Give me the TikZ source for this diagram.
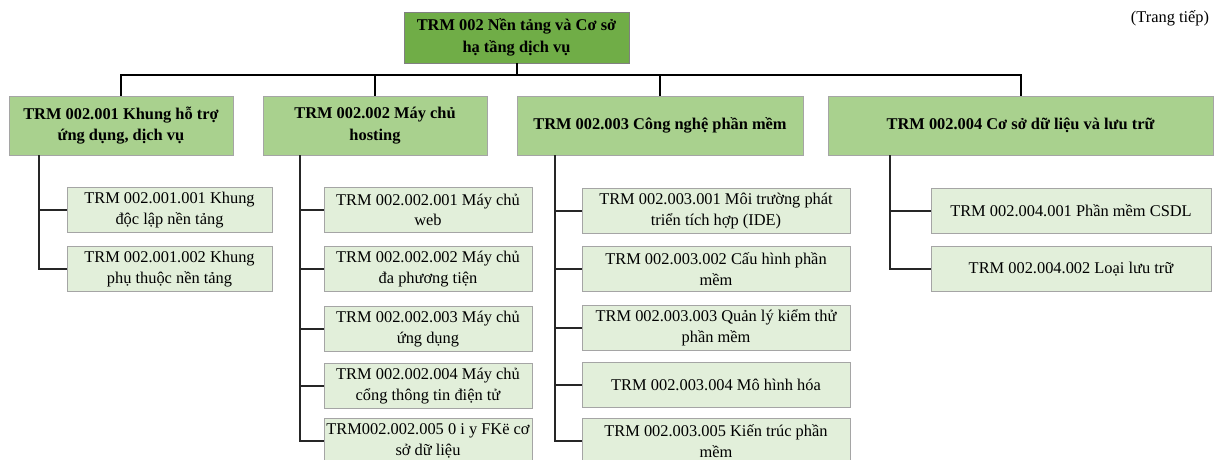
\documentclass[tikz,border=0pt]{standalone}
\usepackage{fontspec}
\setmainfont{Liberation Serif}
\usetikzlibrary{calc}
\definecolor{rootgreen}{HTML}{70AD47}
\definecolor{groupgreen}{HTML}{A9D18E}
\definecolor{itemgreen}{HTML}{E2EFDA}
\definecolor{edgegray}{HTML}{A5A5A5}
\tikzset{
  every node/.style={font=\fontsize{12.3}{15.5}\selectfont},
  rootbox/.style={
    draw=gray, fill=rootgreen, align=center, inner sep=0pt,
    font=\fontsize{12.3}{16}\selectfont\bfseries,
    minimum width=168.75pt, minimum height=38.25pt
  },
  groupbox/.style={
    draw=edgegray, fill=groupgreen, align=center, inner sep=0pt,
    font=\fontsize{12.3}{16}\selectfont\bfseries,
    minimum height=44.25pt
  },
  itembox/.style={
    draw=edgegray, fill=itemgreen, align=center, inner sep=0pt,
    minimum height=33.75pt
  },
  trunk/.style={line width=1.5pt, black},
  branch/.style={line width=0.9pt, black!85}
}
\begin{document}
\begin{tikzpicture}[x=0.75pt, y=-0.75pt]
    \useasboundingbox (0,0) rectangle (1218,460);
    \clip (0,0) rectangle (1218,460);

    \node [rootbox] (root) at (516.5, 37.5) {TRM 002 Nền tảng và Cơ sở\\hạ tầng dịch vụ};
    \node (next) at (1170, 18) {(Trang tiếp)};

    \node [groupbox, minimum width=168pt]    (G1) at ( 121.0, 125.5) {TRM 002.001 Khung hỗ trợ\\ứng dụng, dịch vụ};
    \node [groupbox, minimum width=168pt]    (G2) at ( 375.0, 125.5) {TRM 002.002 Máy chủ\\hosting};
    \node [groupbox, minimum width=214.5pt]  (G3) at ( 660.0, 125.5) {TRM 002.003 Công nghệ phần mềm};
    \node [groupbox, minimum width=288.75pt] (G4) at (1020.5, 125.5) {TRM 002.004 Cơ sở dữ liệu và lưu trữ};

    \node [itembox, minimum width=153.75pt] (G1a) at (169.5, 210) {TRM 002.001.001 Khung\\độc lập nền tảng};
    \node [itembox, minimum width=153.75pt] (G1b) at (169.5, 269) {TRM 002.001.002 Khung\\phụ thuộc nền tảng};

    \node [itembox, minimum width=156pt] (G2a) at (428, 210) {TRM 002.002.001 Máy chủ\\web};
    \node [itembox, minimum width=156pt] (G2b) at (428, 269) {TRM 002.002.002 Máy chủ\\đa phương tiện};
    \node [itembox, minimum width=156pt] (G2c) at (428, 329) {TRM 002.002.003 Máy chủ\\ứng dụng};
    \node [itembox, minimum width=156pt] (G2d) at (428, 386) {TRM 002.002.004 Máy chủ\\cổng thông tin điện tử};
    \node [itembox, minimum width=156pt] (G2e) at (428, 441) {TRM002.002.005 0 i y FKë cơ\\sở dữ liệu};

    \node [itembox, minimum width=201pt] (G3a) at (716, 211) {TRM 002.003.001 Môi trường phát\\triển tích hợp (IDE)};
    \node [itembox, minimum width=201pt] (G3b) at (716, 269) {TRM 002.003.002 Cấu hình phần\\mềm};
    \node [itembox, minimum width=201pt] (G3c) at (716, 328) {TRM 002.003.003 Quản lý kiểm thử\\phần mềm};
    \node [itembox, minimum width=201pt] (G3d) at (716, 385) {TRM 002.003.004 Mô hình hóa};
    \node [itembox, minimum width=201pt] (G3e) at (716, 441) {TRM 002.003.005 Kiến trúc phần\\mềm};

    \node [itembox, minimum width=210pt] (G4a) at (1071, 211) {TRM 002.004.001 Phần mềm CSDL};
    \node [itembox, minimum width=210pt] (G4b) at (1071, 269) {TRM 002.004.002 Loại lưu trữ};

    \coordinate (bar) at (0, 75);
    \coordinate (S1)  at ( 39, 0);
    \coordinate (S2)  at (300, 0);
    \coordinate (S3)  at (555, 0);
    \coordinate (S4)  at (890, 0);

    \draw [trunk] (root.south) -- (root.south |- bar);
    \draw [trunk] (G1.north) -- (G1.north |- bar) -- (G4.north |- bar) -- (G4.north);
    \draw [trunk] (G2.north) -- (G2.north |- bar);
    \draw [trunk] (G3.north) -- (G3.north |- bar);

    \draw [branch] (S1 |- G1.south) |- (G1b.west);
    \draw [branch] (S1 |- G1a.west) -- (G1a.west);
    \draw [branch] (S2 |- G2.south) |- (G2e.west);
    \foreach \n in {a,b,c,d}
      \draw [branch] (S2 |- G2\n.west) -- (G2\n.west);
    \draw [branch] (S3 |- G3.south) |- (G3e.west);
    \foreach \n in {a,b,c,d}
      \draw [branch] (S3 |- G3\n.west) -- (G3\n.west);
    \draw [branch] (S4 |- G4.south) |- (G4b.west);
    \draw [branch] (S4 |- G4a.west) -- (G4a.west);
\end{tikzpicture}
\end{document}
